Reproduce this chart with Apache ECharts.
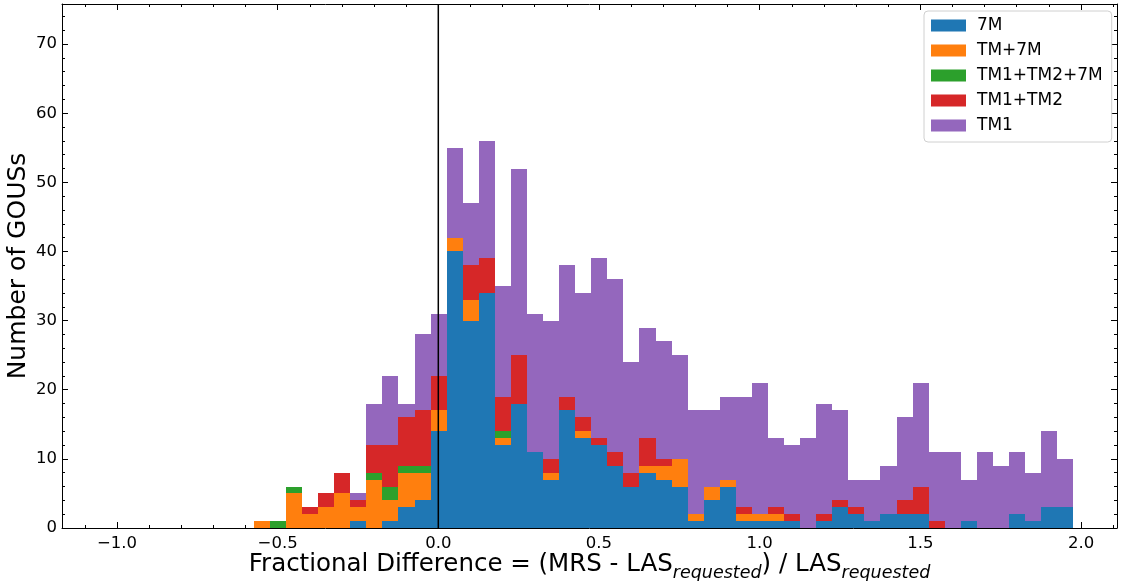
<!DOCTYPE html>
<html>
<head>
<meta charset="utf-8">
<title>Fractional Difference histogram</title>
<script src="https://cdn.jsdelivr.net/npm/echarts@6/dist/echarts.min.js"></script>
<style>
  html, body { margin: 0; padding: 0; background: #ffffff; }
  #chart { width: 1123px; height: 581px; }
</style>
</head>
<body>
<div id="chart"></div>
<script>
// Histogram bins: left edge of the first bin and the common bin width
const binStart = -0.574;
const binWidth = 0.05;

// Counts per bin (51 bins), one array per array configuration
const seriesNames = ['7M', 'TM+7M', 'TM1+TM2+7M', 'TM1+TM2', 'TM1'];
const seriesColors = ['#1f77b4', '#ff7f0e', '#2ca02c', '#d62728', '#9467bd'];

const counts7M = [
  0, 0, 0, 0, 0, 0, 1, 0, 1, 3,
  4, 14, 40, 30, 34, 12, 18, 11, 7, 17,
  13, 12, 9, 6, 8, 7, 6, 1, 4, 6,
  1, 1, 1, 1, 0, 1, 3, 2, 1, 2,
  2, 2, 0, 0, 1, 0, 0, 2, 1, 3,
  3
];
const countsTM7M = [
  1, 0, 5, 2, 3, 5, 2, 7, 3, 5,
  4, 3, 2, 3, 0, 1, 0, 0, 1, 0,
  1, 0, 0, 0, 1, 2, 4, 1, 2, 1,
  1, 1, 1, 0, 0, 0, 0, 0, 0, 0,
  0, 0, 0, 0, 0, 0, 0, 0, 0, 0,
  0
];
const countsTM1TM27M = [
  0, 1, 1, 0, 0, 0, 0, 1, 2, 1,
  1, 0, 0, 0, 0, 1, 0, 0, 0, 0,
  0, 0, 0, 0, 0, 0, 0, 0, 0, 0,
  0, 0, 0, 0, 0, 0, 0, 0, 0, 0,
  0, 0, 0, 0, 0, 0, 0, 0, 0, 0,
  0
];
const countsTM1TM2 = [
  0, 0, 0, 1, 2, 3, 1, 4, 6, 7,
  8, 5, 0, 5, 5, 5, 7, 0, 2, 2,
  2, 1, 2, 2, 4, 1, 0, 0, 0, 0,
  1, 0, 1, 1, 0, 1, 1, 1, 0, 0,
  2, 4, 1, 0, 0, 0, 0, 0, 0, 0,
  0
];
const countsTM1 = [
  0, 0, 0, 0, 0, 0, 1, 6, 10, 2,
  11, 9, 13, 9, 17, 16, 27, 20, 20, 19,
  18, 26, 25, 16, 16, 17, 15, 15, 11, 12,
  16, 19, 10, 10, 13, 16, 13, 4, 6, 7,
  12, 15, 10, 11, 6, 11, 9, 9, 7, 11,
  7
];

// Axis ranges and tick positions
const xRange = [-1.171, 2.112];
const yRange = [0, 75.8];
const xMajorTicks = [-1.0, -0.5, 0.0, 0.5, 1.0, 1.5, 2.0];
const xTickLabels = ['\u22121.0', '\u22120.5', '0.0', '0.5', '1.0', '1.5', '2.0'];
const xMinorTicks = [-1.1, -1.0, -0.9, -0.8, -0.7, -0.6, -0.5, -0.4, -0.3, -0.2, -0.1, 0.0,
  0.1, 0.2, 0.3, 0.4, 0.5, 0.6, 0.7, 0.8, 0.9, 1.0, 1.1, 1.2, 1.3, 1.4, 1.5, 1.6,
  1.7, 1.8, 1.9, 2.0, 2.1];
const yMajorTicks = [0, 10, 20, 30, 40, 50, 60, 70];
const yTickLabels = ['0', '10', '20', '30', '40', '50', '60', '70'];
const yMinorTicks = [0, 2, 4, 6, 8, 10, 12, 14, 16, 18, 20, 22, 24, 26, 28, 30, 32, 34,
  36, 38, 40, 42, 44, 46, 48, 50, 52, 54, 56, 58, 60, 62, 64, 66, 68, 70, 72, 74];

const allCounts = [counts7M, countsTM7M, countsTM1TM27M, countsTM1TM2, countsTM1];

// Build stacked rectangles: [left, right, bottom, top]
const cumulative = new Array(counts7M.length).fill(0);
const stackedData = allCounts.map(function (arr) {
  const out = [];
  arr.forEach(function (c, i) {
    const bottom = cumulative[i];
    const top = bottom + c;
    cumulative[i] = top;
    if (c > 0) {
      const left = binStart + i * binWidth;
      out.push([left, left + binWidth, bottom, top]);
    }
  });
  return out;
});

// Snap each bin to whole pixels so neighbouring bins meet without seams
function renderBin(params, api) {
  const p0 = api.coord([api.value(0), api.value(3)]);
  const p1 = api.coord([api.value(1), api.value(2)]);
  const x0 = Math.round(p0[0]), x1 = Math.round(p1[0]);
  const y0 = Math.round(p0[1]), y1 = Math.round(p1[1]);
  return {
    type: 'rect',
    shape: { x: x0, y: y0, width: x1 - x0, height: y1 - y0 },
    style: api.style()
  };
}

const FONT = 'DejaVu Sans';
const black = '#000000';

function xAxisDef(position, ticks, len, showLine, labels) {
  return {
    type: 'value', position: position, min: xRange[0], max: xRange[1],
    axisLine: { show: showLine, onZero: false, lineStyle: { color: black, width: 1 } },
    axisTick: { show: true, inside: true, length: len, customValues: ticks,
      lineStyle: { color: black, width: 1 } },
    axisLabel: labels ? {
      show: true, customValues: xMajorTicks, margin: 7,
      fontFamily: FONT, fontSize: 16.5, color: black,
      formatter: function (v) {
        const idx = xMajorTicks.findIndex(function (t) { return Math.abs(t - v) < 1e-6; });
        return idx >= 0 ? xTickLabels[idx] : '';
      }
    } : { show: false },
    splitLine: { show: false }
  };
}

function yAxisDef(position, ticks, len, showLine, labels) {
  return {
    type: 'value', position: position, min: yRange[0], max: yRange[1],
    axisLine: { show: showLine, onZero: false, lineStyle: { color: black, width: 1 } },
    axisTick: { show: true, inside: true, length: len, customValues: ticks,
      lineStyle: { color: black, width: 1 } },
    axisLabel: labels ? {
      show: true, customValues: yMajorTicks, margin: 5,
      fontFamily: FONT, fontSize: 16.5, color: black,
      formatter: function (v) {
        const idx = yMajorTicks.indexOf(Math.round(v));
        return idx >= 0 ? yTickLabels[idx] : '';
      }
    } : { show: false },
    splitLine: { show: false }
  };
}

const xMain = xAxisDef('bottom', xMajorTicks, 6, true, true);
xMain.name = '{t|Fractional Difference = (MRS - LAS}{s|requested}{t|) / LAS}{s|requested}';
xMain.nameLocation = 'middle';
xMain.nameGap = 20;
xMain.nameMoveOverlap = false;
xMain.nameTextStyle = {
  fontFamily: FONT, color: black,
  rich: {
    t: { fontFamily: FONT, fontSize: 24.5, color: black, lineHeight: 34, verticalAlign: 'middle' },
    s: { fontFamily: FONT, fontSize: 17.5, fontStyle: 'italic', color: black, lineHeight: 17, verticalAlign: 'bottom' }
  }
};

const yMain = yAxisDef('left', yMajorTicks, 6, true, true);
yMain.name = 'Number of GOUSs';
yMain.nameLocation = 'middle';
yMain.nameGap = 31;
yMain.nameMoveOverlap = false;
yMain.nameTextStyle = { fontFamily: FONT, fontSize: 25, color: black };

const series = seriesNames.map(function (name, k) {
  return {
    name: name,
    type: 'custom',
    renderItem: renderBin,
    xAxisIndex: 0, yAxisIndex: 0,
    encode: { x: [0, 1], y: [2, 3] },
    itemStyle: { color: seriesColors[k] },
    data: stackedData[k],
    z: 2,
    silent: true
  };
});

// Vertical reference line at zero difference
series.push({
  name: 'zero',
  type: 'line',
  xAxisIndex: 0, yAxisIndex: 0,
  data: [[0, yRange[0]], [0, yRange[1]]],
  symbol: 'none',
  lineStyle: { color: black, width: 1.5 },
  z: 5,
  silent: true
});

const chart = echarts.init(document.getElementById('chart'), null, { renderer: 'canvas' });
chart.setOption({
  animation: false,
  backgroundColor: '#ffffff',
  grid: { left: 62, right: 6, top: 4, bottom: 53, containLabel: false, outerBoundsMode: 'none' },
  legend: {
    data: seriesNames,
    orient: 'vertical',
    left: 924, top: 11,
    icon: 'rect',
    itemWidth: 35, itemHeight: 12,
    itemGap: 8,
    padding: [6, 9, 8, 7],
    backgroundColor: 'rgba(255,255,255,0.8)',
    borderColor: '#d0d0d0', borderWidth: 1, borderRadius: 4,
    textStyle: { fontFamily: FONT, fontSize: 17, color: black, padding: [0, 0, 0, 6] }
  },
  xAxis: [
    xMain,
    xAxisDef('bottom', xMinorTicks, 3, false, false),
    xAxisDef('top', xMajorTicks, 6, true, false),
    xAxisDef('top', xMinorTicks, 3, false, false)
  ],
  yAxis: [
    yMain,
    yAxisDef('left', yMinorTicks, 3, false, false),
    yAxisDef('right', yMajorTicks, 6, true, false),
    yAxisDef('right', yMinorTicks, 3, false, false)
  ],
  series: series
});
</script>
</body>
</html>
